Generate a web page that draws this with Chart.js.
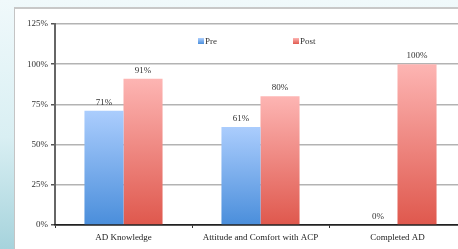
<!DOCTYPE html>
<html>
<head>
<meta charset="utf-8">
<script src="https://cdn.jsdelivr.net/npm/chart.js@4"></script>
<style>
  html, body { margin: 0; padding: 0; width: 458px; height: 249px; overflow: hidden; }
  body { background: linear-gradient(to bottom, #f0f9fb 0%, #d9eff3 55%, #a6d3dc 100%); position: relative; }
  #panel { position: absolute; left: 14px; top: 7px; width: 470px; height: 260px; background: #fff; border-left: 1px solid #c4c4c4; border-top: 2px solid #c8c8c8; }
  #wrap { position: absolute; left: 0; top: 0; width: 480px; height: 249px; }
</style>
</head>
<body>
<div id="panel"></div>
<div id="wrap"><canvas id="chart"></canvas></div>
<script>
// ==================== DATA ====================
const categories = ['AD Knowledge', 'Attitude and Comfort with ACP', 'Completed AD'];
const preValues = [0.71, 0.61, 0];
const postValues = [0.91, 0.80, 1.00];
const yTicks = [0, 0.25, 0.5, 0.75, 1.0, 1.25];

const FONT = { family: '"Liberation Serif", "Times New Roman", serif', size: 9 };

// vertical gradient per bar: light at top, darker at base
function barGradient(top, bottom) {
    return (ctx) => {
        const chart = ctx.chart;
        const y = chart.scales && chart.scales.y;
        if (!y || ctx.raw === undefined) return top;
        const y0 = y.getPixelForValue(0);
        const y1 = y.getPixelForValue(ctx.raw);
        if (!isFinite(y0) || !isFinite(y1) || y0 === y1) return top;
        const g = chart.ctx.createLinearGradient(0, y1, 0, y0);
        g.addColorStop(0, top);
        g.addColorStop(1, bottom);
        return g;
    };
}

// labels above each bar
const valueLabels = {
    id: 'valueLabels',
    afterDatasetsDraw(chart) {
        const c = chart.ctx;
        c.save();
        c.font = `${FONT.size}px ${FONT.family}`;
        c.fillStyle = '#333';
        c.textAlign = 'center';
        c.textBaseline = 'bottom';
        chart.data.datasets.forEach((ds, i) => {
            chart.getDatasetMeta(i).data.forEach((bar, j) => {
                c.fillText(Math.round(ds.data[j] * 100) + '%', bar.x, bar.y - 4);
            });
        });
        c.restore();
    }
};

// small legend inside plot, like the original
const miniLegend = {
    id: 'miniLegend',
    afterDraw(chart) {
        const c = chart.ctx;
        const pos = [198, 293];
        const sw = [['#aecffd', '#4b8fdc'], ['#fdb5b3', '#e05a4f']];
        c.save();
        c.font = `${FONT.size}px ${FONT.family}`;
        c.textBaseline = 'middle';
        chart.data.datasets.forEach((ds, i) => {
            const x = pos[i], y = 41;
            const g = c.createLinearGradient(0, y - 3, 0, y + 3);
            g.addColorStop(0, sw[i][0]);
            g.addColorStop(1, sw[i][1]);
            c.fillStyle = g;
            c.fillRect(x, y - 3, 6, 6);
            c.fillStyle = '#333';
            c.fillText(ds.label, x + 7, y + 1);
        });
        c.restore();
    }
};

// ==================== CHART ====================
new Chart(document.getElementById('chart'), {
    type: 'bar',
    data: {
        labels: categories,
        datasets: [
            { label: 'Pre', data: preValues, backgroundColor: barGradient('#abcdfd', '#4a8edb') },
            { label: 'Post', data: postValues, backgroundColor: barGradient('#fdb5b3', '#df584d') }
        ]
    },
    options: {
        responsive: true,
        maintainAspectRatio: false,
        animation: false,
        layout: { padding: { left: 14, right: 14, top: 24, bottom: 0 } },
        datasets: { bar: { barPercentage: 1, categoryPercentage: 0.57 } },
        plugins: { legend: { display: false }, tooltip: { enabled: false } },
        scales: {
            y: {
                min: 0, max: 1.25,
                afterBuildTicks: (s) => { s.ticks = yTicks.map(v => ({ value: v })); },
                afterFit: (s) => { s.width = 41; },
                ticks: {
                    callback: (v) => Math.round(v * 100) + '%',
                    font: FONT, color: '#333', padding: 3
                },
                grid: {
                    color: (ctx) => ctx.tick && ctx.tick.value === 0 ? '#222' : '#b3b3b3',
                    lineWidth: 1.5, tickLength: 4, tickColor: '#555'
                },
                border: { color: '#666', width: 2 }
            },
            x: {
                afterFit: (s) => { s.height = 24; },
                ticks: { font: FONT, color: '#222', padding: 4 },
                grid: { display: true, drawOnChartArea: false, tickLength: 3, color: '#333', offset: true },
                border: { color: '#222', width: 1.5 }
            }
        }
    },
    plugins: [valueLabels, miniLegend]
});
</script>
</body>
</html>
